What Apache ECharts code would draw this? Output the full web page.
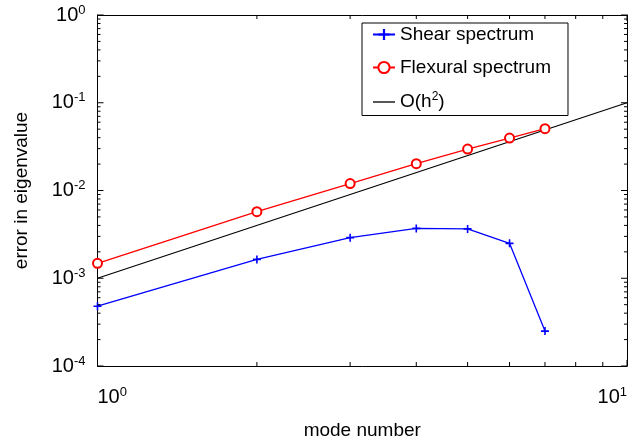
<!DOCTYPE html>
<html><head><meta charset="utf-8">
<script src="https://cdn.jsdelivr.net/npm/echarts@6/dist/echarts.min.js"></script>
<style>html,body{margin:0;padding:0;background:#fff}#c{width:635px;height:440px}</style>
</head><body><div id="c"></div>
<script>
const modes = [1, 2, 3, 4, 5, 6, 7];
const shear = [4.8e-4, 1.64e-3, 2.9e-3, 3.7e-3, 3.65e-3, 2.5e-3, 2.5e-4];
const flexural = [1.48e-3, 5.73e-3, 1.2e-2, 2.02e-2, 2.97e-2, 3.96e-2, 5.07e-2];
const refX = [1, 10];
const refY = [1e-3, 1e-1];
const xTickLabels = [1, 10];
const yTickLabels = [1e-4, 1e-3, 1e-2, 1e-1, 1];
const xMinor = [2, 3, 4, 5, 6, 7, 8, 9];
const yMinor = [];
for (let e = -4; e < 0; e++) for (let k = 2; k <= 9; k++) yMinor.push(+(k * Math.pow(10, e)).toPrecision(3));

const FONT = '"Liberation Sans", Arial, Helvetica, sans-serif';
const supFmt = v => { const e = Math.round(Math.log10(v)); return '{b|10}{s|' + e + '}'; };
const rich = { b: { fontSize: 20, fontFamily: FONT, color: '#000' }, s: { fontSize: 13, fontFamily: FONT, color: '#000', padding: [0, 0, 10, 0] } };

const chart = echarts.init(document.getElementById('c'));
const grid = { left: 97.5, right: 8, top: 15, bottom: 74, outerBoundsMode: 'none', containLabel: false };
const lineStyle = { color: '#000', width: 1 };
function xAx(pos, labels) {
  return {
    type: 'log', logBase: 10, min: 1, max: 10, position: pos, gridIndex: 0,
    axisLine: { show: true, onZero: false, lineStyle },
    axisTick: { show: false },
    axisLabel: labels ? { show: true, formatter: supFmt, rich, margin: 20, customValues: xTickLabels, alignMinLabel: 'left', alignMaxLabel: 'right' } : { show: false },
    splitLine: { show: false },
    name: labels ? 'mode number' : '', nameLocation: 'middle', nameGap: 55,
    nameTextStyle: { fontSize: 19, fontFamily: FONT, color: '#000' }
  };
}
function yAx(pos, labels) {
  return {
    type: 'log', logBase: 10, min: 1e-4, max: 1, position: pos, gridIndex: 0,
    axisLine: { show: true, onZero: false, lineStyle },
    axisTick: { show: false },
    axisLabel: labels ? { show: true, formatter: supFmt, rich, margin: 12, customValues: yTickLabels } : { show: false },
    splitLine: { show: false },
    name: labels ? 'error in eigenvalue' : '', nameLocation: 'middle', nameGap: 66, nameRotate: 90,
    nameTextStyle: { fontSize: 19, fontFamily: FONT, color: '#000' }
  };
}
// tick marks drawn through the axes' own scales
function tickSeries(dim, values, len) {
  return {
    type: 'custom', xAxisIndex: 0, yAxisIndex: 0, silent: true, clip: false, z: 5,
    data: values.map(v => dim === 'x' ? [v, 1e-2] : [2, v]),
    renderItem: (params, api) => {
      const cs = params.coordSys;
      const p = api.coord([api.value(0), api.value(1)]);
      const st = { stroke: '#000', lineWidth: 1 };
      if (dim === 'x') {
        const yb = cs.y + cs.height, yt = cs.y;
        return { type: 'group', children: [
          { type: 'line', shape: { x1: p[0], y1: yb, x2: p[0], y2: yb - len }, style: st },
          { type: 'line', shape: { x1: p[0], y1: yt, x2: p[0], y2: yt + len }, style: st }
        ] };
      }
      const xl = cs.x, xr = cs.x + cs.width;
      return { type: 'group', children: [
        { type: 'line', shape: { x1: xl, y1: p[1], x2: xl + len, y2: p[1] }, style: st },
        { type: 'line', shape: { x1: xr, y1: p[1], x2: xr - len, y2: p[1] }, style: st }
      ] };
    }
  };
}
const plus = 'path://M4,0h2v4h4v2h-4v4h-2v-4h-4v-2h4z';
chart.setOption({
  animation: false,
  backgroundColor: '#fff',
  grid,
  xAxis: [xAx('bottom', true), xAx('top', false)],
  yAxis: [yAx('left', true), yAx('right', false)],
  legend: {
    orient: 'vertical', left: 362, top: 23,
    backgroundColor: '#fff', borderColor: '#000', borderWidth: 1,
    padding: [2, 17, 4, 10], itemGap: 14, itemWidth: 22, itemHeight: 14,
    textStyle: { fontSize: 19, fontFamily: FONT, color: '#000', rich: { sup: { fontSize: 12, fontFamily: FONT, padding: [0, 0, 10, 0] } } },
    formatter: n => n === 'O(h2)' ? 'O(h{sup|2})' : n,
    data: ['Shear spectrum', 'Flexural spectrum', { name: 'O(h2)', icon: 'path://M0,0h20v1.2h-20z', itemStyle: { color: '#000' } }]
  },
  series: [
    tickSeries('x', xMinor, 4), tickSeries('x', xTickLabels, 6),
    tickSeries('y', yMinor, 3), tickSeries('y', yTickLabels, 6),
    { name: 'Shear spectrum', type: 'line', xAxisIndex: 0, yAxisIndex: 0, data: modes.map((m, i) => [m, shear[i]]),
      symbol: plus, symbolSize: 8, itemStyle: { color: '#0000ff' }, lineStyle: { color: '#0000ff', width: 1.3 } },
    { name: 'Flexural spectrum', type: 'line', xAxisIndex: 0, yAxisIndex: 0, data: modes.map((m, i) => [m, flexural[i]]),
      symbol: 'emptyCircle', symbolSize: 9, itemStyle: { color: '#ff0000', borderColor: '#ff0000', borderWidth: 1.2 }, lineStyle: { color: '#ff0000', width: 1.3 } },
    { name: 'O(h2)', type: 'line', xAxisIndex: 0, yAxisIndex: 0, data: refX.map((x, i) => [x, refY[i]]),
      symbol: 'none', itemStyle: { color: '#000' }, lineStyle: { color: '#000', width: 1.2 } }
  ]
});
</script></body></html>
